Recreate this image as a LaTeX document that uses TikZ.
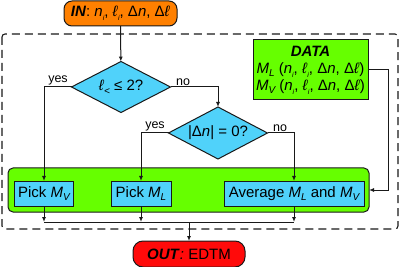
\documentclass[tikz,border=0pt]{standalone}
\usepackage{fontspec}
\setmainfont{Liberation Sans}
\usetikzlibrary{shapes.geometric,arrows.meta}
\definecolor{corange}{RGB}{255,128,0}
\definecolor{ccyan}{RGB}{80,210,250}
\definecolor{cgreen}{RGB}{102,255,0}
\definecolor{cred}{RGB}{255,10,10}
\definecolor{cline}{RGB}{25,25,25}
\newcommand{\sbi}[1]{\raisebox{-0.5ex}{\fontsize{7}{7}\selectfont\itshape #1}}
\newcommand{\sbm}[1]{\raisebox{-0.45ex}{\fontsize{10}{10}\selectfont\itshape #1}}
\begin{document}
\begin{tikzpicture}[x=1pt,y=-1pt,
  font=\fontsize{15}{18}\selectfont,
  box/.style={draw=cline,line width=1pt,inner sep=0pt,outer sep=0pt},
  pickbox/.style={box,fill=ccyan,minimum height=25pt},
  dia/.style={box,diamond,fill=ccyan,aspect=2},
  conn/.style={draw=cline,line width=1pt},
  arr/.style={conn,-{Latex[length=5pt,width=4pt]}},
  lab/.style={font=\fontsize{12.5}{14}\selectfont,anchor=south,inner sep=1.5pt}]
\useasboundingbox (0,0) rectangle (399,267);
% dashed frame
\draw[cline,line width=1.1pt,dash pattern=on 8pt off 5pt,rounded corners=3pt] (2,34) rectangle (398,229);
% nodes
\node[box,fill=corange,rounded corners=8pt,minimum width=113pt,minimum height=25pt] (in) at (120.5,13.5)
  {\textbf{\textit{IN}}: \textit{n}\sbi{i}, \textit{ℓ}\sbi{i}, Δ\textit{n}, Δ\textit{ℓ}};
\node[dia,minimum width=99pt,minimum height=51pt] (d1) at (121,87) {\textit{ℓ}\sbm{<} ≤ 2?};
\node[dia,minimum width=99pt,minimum height=52pt] (d2) at (218,133) {|Δ\textit{n}| = 0?};
\node[box,fill=cgreen,minimum width=115pt,minimum height=60pt,align=center] (data) at (310.5,70)
  {\textbf{\textit{DATA}}\\[-1pt]
   \textit{M}\sbm{L} (\textit{n}\sbi{i}, \textit{ℓ}\sbi{i}, Δ\textit{n}, Δ\textit{ℓ})\\[-1pt]
   \textit{M}\sbm{V} (\textit{n}\sbi{i}, \textit{ℓ}\sbi{i}, Δ\textit{n}, Δ\textit{ℓ})};
\node[box,fill=cgreen,rounded corners=5pt,minimum width=361pt,minimum height=44pt] (panel) at (188.5,190) {};
\node[pickbox,minimum width=59pt] (pv) at (44,193.5) {Pick \textit{M}\sbm{V}};
\node[pickbox,minimum width=60pt] (pl) at (141,193.5) {Pick \textit{M}\sbm{L}};
\node[pickbox,minimum width=140pt] (avg) at (294,193.5) {Average \textit{M}\sbm{L} and \textit{M}\sbm{V}};
\node[box,fill=cred,rounded corners=10pt,minimum width=112pt,minimum height=26pt] (out) at (189,254)
  {\textbf{\textit{OUT}}\textit{:} EDTM};
\coordinate (j) at (189,222);
% connectors
\draw[arr] (in) -- (d1);
\draw[arr] (d1.west) -| (pv.north);
\draw[arr] (d1.east) -| (d2.north);
\draw[arr] (d2.west) -| (pl.north);
\draw[arr] (d2.east) -| (avg.north);
\draw[arr] (data.east) -- ++(20,0) |- (panel.east);
\draw[arr] (pv.south) -- (pv.south |- j);
\draw[arr] (pl.south) -- (pl.south |- j);
\draw[arr] (avg.south) -- (avg.south |- j);
\draw[conn] (pv.south |- j) -- (avg.south |- j);
\draw[arr] (j) -- (out.north);
% labels
\node[lab] (y1) at (58,87) {yes};
\node[lab] (n1) at (183,87) {no};
\node[lab] (y2) at (155,133) {yes};
\node[lab] (n2) at (280,133) {no};
\end{tikzpicture}
\end{document}
